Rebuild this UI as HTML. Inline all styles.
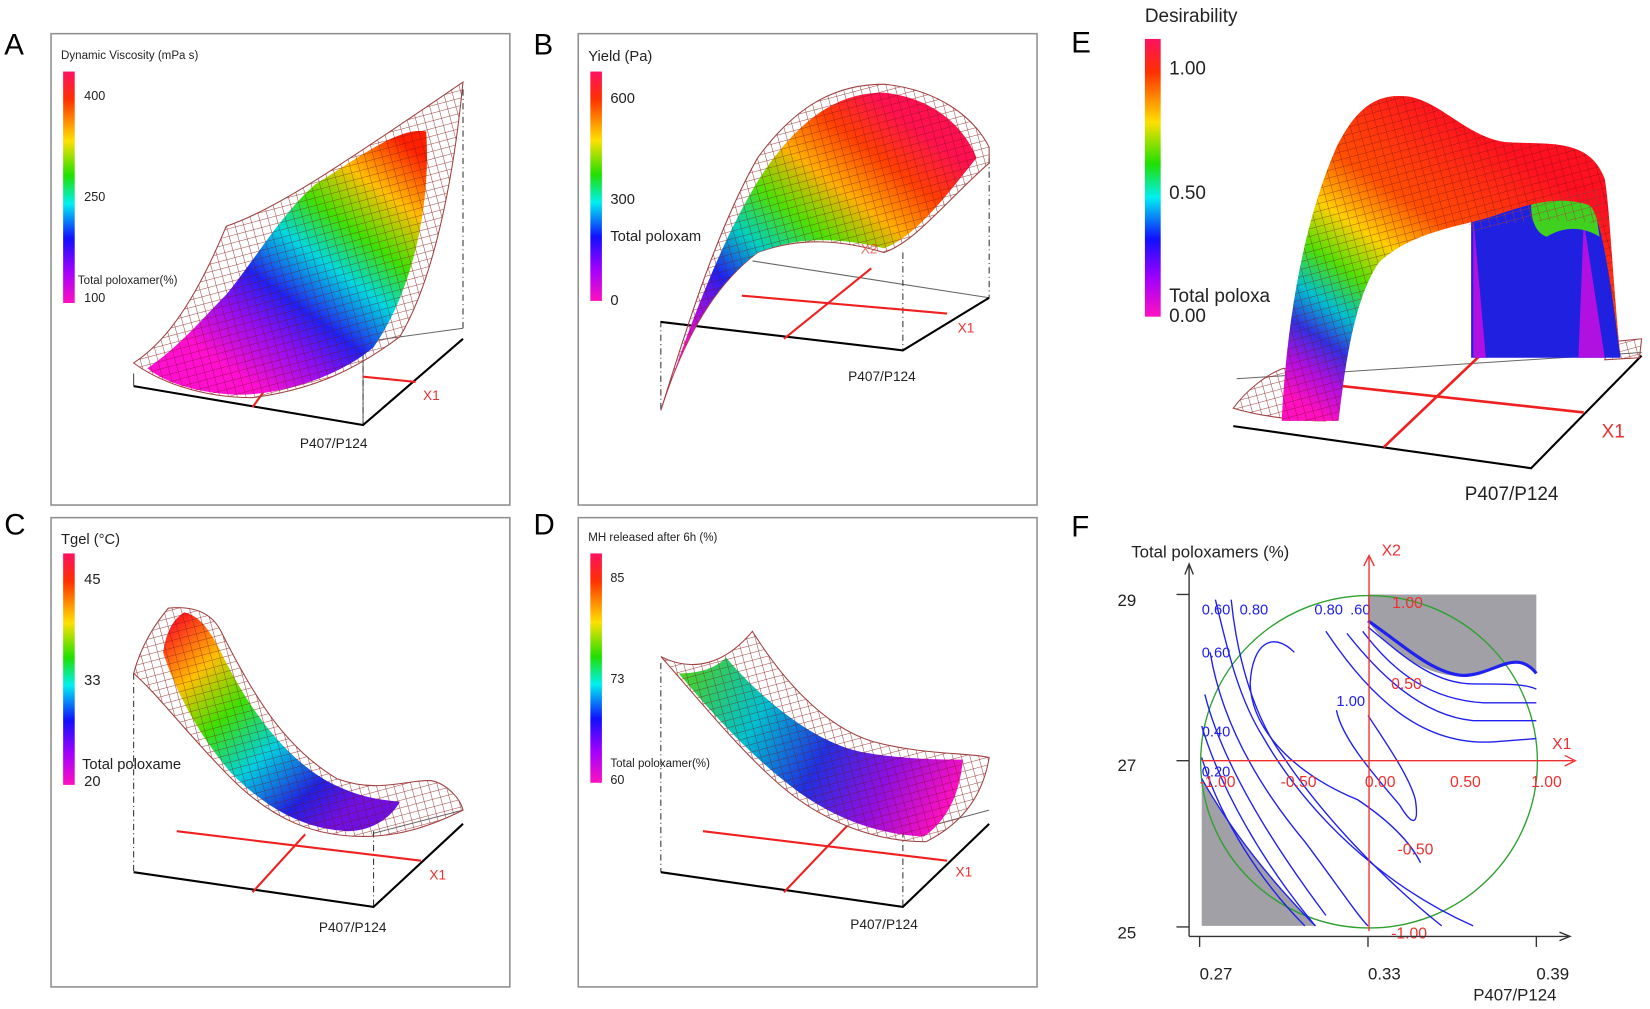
<!DOCTYPE html>
<html><head><meta charset="utf-8"><style>
html,body{margin:0;padding:0;background:#fff;}
svg{display:block;}
text{font-family:"Liberation Sans",sans-serif;}
</style></head><body>
<svg width="1650" height="1009" viewBox="0 0 1568 959" preserveAspectRatio="none" xmlns="http://www.w3.org/2000/svg">
<defs>
<linearGradient id="cb" x1="0" y1="0" x2="0" y2="1">
<stop offset="0" stop-color="#ff1060"/><stop offset="0.12" stop-color="#ff3000"/><stop offset="0.3" stop-color="#ffe000"/><stop offset="0.45" stop-color="#20e000"/><stop offset="0.57" stop-color="#00f0f0"/><stop offset="0.72" stop-color="#1010ff"/><stop offset="0.86" stop-color="#a000ff"/><stop offset="1" stop-color="#ff10c0"/>
</linearGradient>
<linearGradient id="gA" gradientUnits="userSpaceOnUse" x1="390" y1="140" x2="230" y2="360">
<stop offset="0" stop-color="#ff2000"/><stop offset="0.18" stop-color="#ffc000"/><stop offset="0.35" stop-color="#40e000"/><stop offset="0.5" stop-color="#00d8e0"/><stop offset="0.68" stop-color="#2020f0"/><stop offset="0.82" stop-color="#9010f0"/><stop offset="1" stop-color="#ff10d0"/>
</linearGradient>
<linearGradient id="gB" gradientUnits="userSpaceOnUse" x1="830" y1="90" x2="650" y2="330">
<stop offset="0" stop-color="#ff1050"/><stop offset="0.15" stop-color="#ff4000"/><stop offset="0.3" stop-color="#ffb000"/><stop offset="0.45" stop-color="#50e000"/><stop offset="0.6" stop-color="#00d0c0"/><stop offset="0.75" stop-color="#2020f0"/><stop offset="0.88" stop-color="#a010e0"/><stop offset="1" stop-color="#ff10c0"/>
</linearGradient>
<linearGradient id="gC" gradientUnits="userSpaceOnUse" x1="170" y1="590" x2="330" y2="770">
<stop offset="0" stop-color="#ff2020"/><stop offset="0.2" stop-color="#ffc000"/><stop offset="0.4" stop-color="#40e000"/><stop offset="0.62" stop-color="#00d0e0"/><stop offset="0.85" stop-color="#2020e0"/><stop offset="1" stop-color="#7010e0"/>
</linearGradient>
<linearGradient id="gD" gradientUnits="userSpaceOnUse" x1="650" y1="630" x2="900" y2="770">
<stop offset="0" stop-color="#50d020"/><stop offset="0.3" stop-color="#00c0d0"/><stop offset="0.55" stop-color="#2030e0"/><stop offset="0.78" stop-color="#9010e0"/><stop offset="1" stop-color="#ff10c0"/>
</linearGradient>
<linearGradient id="gE" gradientUnits="userSpaceOnUse" x1="1400" y1="120" x2="1230" y2="380">
<stop offset="0" stop-color="#ff1020"/><stop offset="0.3" stop-color="#ff5000"/><stop offset="0.45" stop-color="#ffd000"/><stop offset="0.58" stop-color="#50e000"/><stop offset="0.7" stop-color="#00c0d0"/><stop offset="0.8" stop-color="#3030e0"/><stop offset="0.9" stop-color="#b010e0"/><stop offset="1" stop-color="#ff10c0"/>
</linearGradient>
<pattern id="mesh" width="8" height="7" patternUnits="userSpaceOnUse" patternTransform="rotate(-15)">
<path d="M0 0H8M0 0V7" stroke="#6a1010" stroke-width="0.9" fill="none" opacity="0.6"/>
</pattern>
<pattern id="wire" width="8" height="7" patternUnits="userSpaceOnUse" patternTransform="rotate(-15)">
<path d="M0 0H8M0 0V7" stroke="#a04040" stroke-width="1" fill="none"/>
</pattern>
</defs>
<rect width="1568" height="959" fill="#fff"/>

<g fill="none" stroke="#909090" stroke-width="1.5">
<rect x="48.5" y="32" width="436" height="448"/>
<rect x="549.5" y="32" width="436" height="448"/>
<rect x="48.5" y="492" width="436" height="446"/>
<rect x="549.5" y="492" width="436" height="446"/>
</g>
<g font-size="28" fill="#000">
<text x="4" y="52">A</text><text x="507" y="52">B</text><text x="1018" y="50">E</text>
<text x="4" y="508">C</text><text x="507" y="508">D</text><text x="1018" y="510">F</text>
</g>

<!-- ===== A ===== -->
<rect x="60" y="68" width="11" height="220" fill="url(#cb)"/>
<g font-size="12" fill="#222">
<text x="58" y="56" font-size="11">Dynamic Viscosity (mPa s)</text>
<text x="80" y="95">400</text><text x="80" y="191">250</text><text x="80" y="287">100</text>
<text x="74" y="270" font-size="11">Total poloxamer(%)</text>
</g>
<polyline points="345,404 345,325 440,312" fill="none" stroke="#666" stroke-width="1"/>
<line x1="440" y1="85" x2="440" y2="312" stroke="#333" stroke-dasharray="6,3,1,3"/>
<line x1="345" y1="335" x2="345" y2="404" stroke="#333" stroke-dasharray="6,3,1,3"/>
<polyline points="127,367 345,404 440,322" fill="none" stroke="#000" stroke-width="2"/>
<polyline points="127,367 127,355" stroke="#444" fill="none"/>
<line x1="345" y1="358" x2="395" y2="363" stroke="#f02020" stroke-width="2"/>
<line x1="240" y1="387" x2="258" y2="362" stroke="#f02020" stroke-width="2"/>
<text x="402" y="380" font-size="13" fill="#f03030">X1</text>
<text x="285" y="426" font-size="13" fill="#222">P407/P124</text>
<path d="M127,345 C150,330 180,300 215,215 C260,200 320,160 440,78 C430,180 410,270 380,320 C340,350 300,370 240,378 C190,378 150,362 127,345Z" fill="url(#wire)" stroke="#a04040"/>
<path d="M140,350 C170,330 195,300 215,280 C240,250 270,200 300,175 C340,150 380,120 405,125 C410,200 390,280 355,330 C320,360 260,377 220,375 C180,372 155,362 140,350Z" fill="url(#gA)"/>
<path d="M140,350 C170,330 195,300 215,280 C240,250 270,200 300,175 C340,150 380,120 405,125 C410,200 390,280 355,330 C320,360 260,377 220,375 C180,372 155,362 140,350Z" fill="url(#mesh)"/>

<!-- ===== B ===== -->
<rect x="561" y="68" width="11" height="218" fill="url(#cb)"/>
<g font-size="14" fill="#222">
<text x="559" y="58">Yield (Pa)</text>
<text x="580" y="98">600</text><text x="580" y="194">300</text><text x="580" y="290">0</text>
<text x="580" y="229">Total poloxam</text>
</g>
<polyline points="715,248 940,283" fill="none" stroke="#666"/>
<line x1="940" y1="150" x2="940" y2="283" stroke="#333" stroke-dasharray="6,3,1,3"/>
<line x1="858" y1="240" x2="858" y2="333" stroke="#333" stroke-dasharray="6,3,1,3"/>
<line x1="628" y1="305" x2="628" y2="390" stroke="#333" stroke-dasharray="6,3,1,3"/>
<polyline points="628,306 858,333 940,283" fill="none" stroke="#000" stroke-width="2"/>
<line x1="705" y1="281" x2="900" y2="298" stroke="#f02020" stroke-width="2"/>
<line x1="745" y1="322" x2="828" y2="255" stroke="#f02020" stroke-width="2"/>
<text x="910" y="316" font-size="13" fill="#f03030">X1</text>
<text x="806" y="362" font-size="13" fill="#222">P407/P124</text>
<path d="M628,390 C650,320 680,220 720,150 C760,95 800,80 840,80 C890,85 925,110 940,140 L940,155 C900,190 870,230 840,240 C800,228 760,225 720,240 C680,270 650,320 628,390Z" fill="url(#wire)" stroke="#a04040"/>
<path d="M630,385 C655,310 688,220 728,160 C765,108 800,88 840,88 C885,93 915,118 928,150 C900,185 870,225 840,236 C800,226 760,224 720,240 C682,268 652,315 630,385Z" fill="url(#gB)"/>
<path d="M630,385 C655,310 688,220 728,160 C765,108 800,88 840,88 C885,93 915,118 928,150 C900,185 870,225 840,236 C800,226 760,224 720,240 C682,268 652,315 630,385Z" fill="url(#mesh)"/>
<text x="818" y="241" font-size="13" fill="#f03030" opacity="0.7">X2</text>

<!-- ===== C ===== -->
<rect x="60" y="526" width="11" height="220" fill="url(#cb)"/>
<g font-size="14" fill="#222">
<text x="58" y="517">Tgel (°C)</text>
<text x="80" y="555">45</text><text x="80" y="651">33</text><text x="80" y="747">20</text>
<text x="78" y="731">Total poloxame</text>
</g>
<polyline points="355,792 440,770" fill="none" stroke="#666"/>
<line x1="127" y1="640" x2="127" y2="829" stroke="#333" stroke-dasharray="6,3,1,3"/>
<line x1="355" y1="790" x2="355" y2="862" stroke="#333" stroke-dasharray="6,3,1,3"/>
<polyline points="127,829 355,862 440,783" fill="none" stroke="#000" stroke-width="2"/>
<line x1="168" y1="790" x2="400" y2="818" stroke="#f02020" stroke-width="2"/>
<line x1="240" y1="848" x2="290" y2="793" stroke="#f02020" stroke-width="2"/>
<text x="408" y="836" font-size="13" fill="#f03030">X1</text>
<text x="303" y="886" font-size="13" fill="#222">P407/P124</text>
<path d="M127,640 C135,610 150,590 160,578 C180,576 200,580 210,600 C240,660 270,710 320,740 C360,755 390,740 410,742 C425,745 438,760 440,770 C410,785 380,795 345,795 C300,795 260,780 220,740 C180,700 150,660 127,640Z" fill="url(#wire)" stroke="#a04040"/>
<path d="M155,620 C158,600 165,588 175,582 C190,585 200,600 210,620 C235,670 265,715 310,742 C340,758 360,760 380,762 C370,780 350,790 330,790 C290,788 255,770 220,735 C190,700 168,660 155,620Z" fill="url(#gC)"/>
<path d="M155,620 C158,600 165,588 175,582 C190,585 200,600 210,620 C235,670 265,715 310,742 C340,758 360,760 380,762 C370,780 350,790 330,790 C290,788 255,770 220,735 C190,700 168,660 155,620Z" fill="url(#mesh)"/>

<!-- ===== D ===== -->
<rect x="561" y="526" width="11" height="218" fill="url(#cb)"/>
<g font-size="12" fill="#222">
<text x="559" y="514" font-size="11">MH released after 6h (%)</text>
<text x="580" y="553">85</text><text x="580" y="649">73</text><text x="580" y="745">60</text>
<text x="580" y="729" font-size="11">Total poloxamer(%)</text>
</g>
<polyline points="858,792 940,770" fill="none" stroke="#666"/>
<line x1="628" y1="630" x2="628" y2="829" stroke="#333" stroke-dasharray="6,3,1,3"/>
<line x1="858" y1="790" x2="858" y2="862" stroke="#333" stroke-dasharray="6,3,1,3"/>
<polyline points="628,829 858,862 940,783" fill="none" stroke="#000" stroke-width="2"/>
<line x1="668" y1="790" x2="900" y2="818" stroke="#f02020" stroke-width="2"/>
<line x1="745" y1="848" x2="805" y2="785" stroke="#f02020" stroke-width="2"/>
<text x="908" y="833" font-size="13" fill="#f03030">X1</text>
<text x="808" y="883" font-size="13" fill="#222">P407/P124</text>
<path d="M628,624 C660,640 690,630 715,600 C740,640 780,690 830,705 C880,718 920,715 940,720 C935,750 920,780 880,800 C830,800 780,780 740,745 C700,710 660,660 628,624Z" fill="url(#wire)" stroke="#a04040"/>
<path d="M645,640 C665,640 680,635 690,625 C720,660 770,705 820,715 C860,722 895,722 915,722 C912,755 900,780 878,795 C830,793 785,775 745,742 C705,710 670,670 645,640Z" fill="url(#gD)"/>
<path d="M645,640 C665,640 680,635 690,625 C720,660 770,705 820,715 C860,722 895,722 915,722 C912,755 900,780 878,795 C830,793 785,775 745,742 C705,710 670,670 645,640Z" fill="url(#mesh)"/>

<!-- ===== E ===== -->
<rect x="1088" y="37" width="15" height="264" fill="url(#cb)"/>
<g font-size="18" fill="#222">
<text x="1088" y="21">Desirability</text>
<text x="1111" y="71">1.00</text><text x="1111" y="189">0.50</text><text x="1111" y="306">0.00</text>
<text x="1111" y="287">Total poloxa</text>
</g>
<polyline points="1175,360 1560,335" fill="none" stroke="#666"/>
<polyline points="1172,405 1455,445 1560,338" fill="none" stroke="#000" stroke-width="2"/>
<line x1="1230" y1="362" x2="1505" y2="392" stroke="#f02020" stroke-width="2.5"/>
<line x1="1315" y1="425" x2="1420" y2="325" stroke="#f02020" stroke-width="2.5"/>
<text x="1522" y="416" font-size="18" fill="#f03030">X1</text>
<text x="1392" y="475" font-size="18" fill="#222">P407/P124</text>
<path d="M1172,388 C1185,370 1205,355 1220,350 L1265,360 L1260,400 C1230,400 1195,395 1172,388Z" fill="url(#wire)" stroke="#a04040"/>
<path d="M1530,325 L1560,322 L1558,340 L1525,342Z" fill="url(#wire)" stroke="#a04040"/>
<path d="M1398,200 L1460,180 L1515,190 L1530,250 L1540,340 L1398,340Z" fill="#2020e0"/>
<path d="M1400,205 L1412,340 L1400,340Z M1505,210 L1525,340 L1500,340Z" fill="#b010e0"/>
<path d="M1455,195 C1470,185 1500,180 1515,190 L1520,225 C1505,215 1485,215 1470,225 C1460,222 1455,210 1455,195Z" fill="#40d020"/>
<path d="M1218,400 C1222,320 1235,220 1270,140 C1290,100 1310,88 1340,92 C1370,98 1395,130 1430,135 C1470,138 1510,130 1525,170 C1530,200 1532,260 1540,340 C1530,260 1520,200 1510,195 C1480,185 1450,195 1420,205 C1390,215 1340,220 1310,250 C1290,280 1280,330 1272,400Z" fill="url(#gE)"/>
<path d="M1218,400 C1222,320 1235,220 1270,140 C1290,100 1310,88 1340,92 C1370,98 1395,130 1430,135 C1470,138 1510,130 1525,170 C1530,200 1532,260 1540,340 C1530,260 1520,200 1510,195 C1480,185 1450,195 1420,205 C1390,215 1340,220 1310,250 C1290,280 1280,330 1272,400Z" fill="url(#mesh)"/>
<path d="M1395,210 C1440,195 1490,180 1520,180 L1530,215 C1490,205 1440,210 1398,220Z" fill="url(#wire)" opacity="0.8"/>

<!-- ===== F ===== -->
<path d="M1300,565 H1460 V640 C1440,615 1420,640 1390,642 C1360,645 1320,620 1300,590Z" fill="#a0a0a6"/>
<path d="M1142,740 C1170,790 1210,840 1250,880 H1142Z" fill="#a0a0a6"/>
<ellipse cx="1301" cy="724" rx="160" ry="158" fill="none" stroke="#30a030" stroke-width="1.3"/>
<g fill="none" stroke="#2020f0" stroke-width="1.3">
<path d="M1300,590 C1330,610 1360,640 1390,642 C1420,642 1440,615 1460,640" stroke-width="3"/>
<path d="M1300,596 C1330,620 1360,650 1400,650 C1430,650 1450,650 1460,655"/>
<path d="M1295,600 C1325,640 1360,665 1410,668 L1460,668"/>
<path d="M1280,602 C1310,640 1350,680 1400,685 L1460,685"/>
<path d="M1260,600 C1300,660 1350,710 1420,705 L1460,702"/>
<path d="M1230,620 C1210,600 1190,610 1188,650 C1190,700 1240,740 1290,760 C1320,780 1340,800 1350,820"/>
<path d="M1270,675 C1275,700 1300,730 1330,765 C1345,790 1348,780 1345,760 C1340,740 1320,710 1300,680"/>
<path d="M1155,570 C1165,610 1175,660 1200,700 C1240,770 1310,840 1400,880"/>
<path d="M1170,570 C1175,620 1190,680 1220,720 C1260,780 1320,840 1370,880"/>
<path d="M1150,620 C1160,680 1190,740 1240,800 C1270,840 1290,870 1300,880"/>
<path d="M1145,660 C1160,720 1200,790 1260,870"/>
<path d="M1142,690 C1160,750 1200,820 1250,880"/>
<path d="M1142,720 C1160,780 1200,840 1240,880"/>
<path d="M1142,740 C1170,790 1210,840 1250,880"/>
</g>
<g font-size="14" fill="#2020f0">
<text x="1142" y="584">0.60</text><text x="1178" y="584">0.80</text><text x="1249" y="584">0.80</text><text x="1283" y="584">.60</text>
<text x="1142" y="625">0.60</text><text x="1270" y="671">1.00</text><text x="1142" y="700">0.40</text><text x="1142" y="738">0.20</text>
</g>
<g stroke="#f03030" stroke-width="1.3" fill="none">
<line x1="1301" y1="530" x2="1301" y2="885"/>
<path d="M1296,538 L1301,528 L1306,538"/>
<line x1="1142" y1="723" x2="1495" y2="723"/>
<path d="M1487,718 L1497,723 L1487,728"/>
</g>
<g font-size="15" fill="#f03030">
<text x="1313" y="528">X2</text><text x="1475" y="712">X1</text>
<text x="1323" y="578">1.00</text><text x="1322" y="655">0.50</text><text x="1328" y="812">-0.50</text><text x="1322" y="892">-1.00</text>
<text x="1140" y="748">-1.00</text><text x="1217" y="748">-0.50</text><text x="1297" y="748">0.00</text><text x="1378" y="748">0.50</text><text x="1455" y="748">1.00</text>
</g>
<g stroke="#333" stroke-width="1.3" fill="none">
<line x1="1130" y1="538" x2="1130" y2="890"/><path d="M1126,546 L1130,536 L1134,546"/>
<line x1="1130" y1="890" x2="1490" y2="890"/><path d="M1482,886 L1492,890 L1482,894"/>
<line x1="1118" y1="565" x2="1130" y2="565"/><line x1="1118" y1="723" x2="1130" y2="723"/><line x1="1118" y1="881" x2="1130" y2="881"/>
<line x1="1140" y1="890" x2="1140" y2="900"/><line x1="1300" y1="890" x2="1300" y2="900"/><line x1="1460" y1="890" x2="1460" y2="900"/>
</g>
<g font-size="16" fill="#222">
<text x="1075" y="530">Total poloxamers (%)</text>
<text x="1062" y="576">29</text><text x="1062" y="733">27</text><text x="1062" y="892">25</text>
<text x="1140" y="931">0.27</text><text x="1300" y="931">0.33</text><text x="1460" y="931">0.39</text>
<text x="1400" y="951">P407/P124</text>
</g>
</svg>
</body></html>
